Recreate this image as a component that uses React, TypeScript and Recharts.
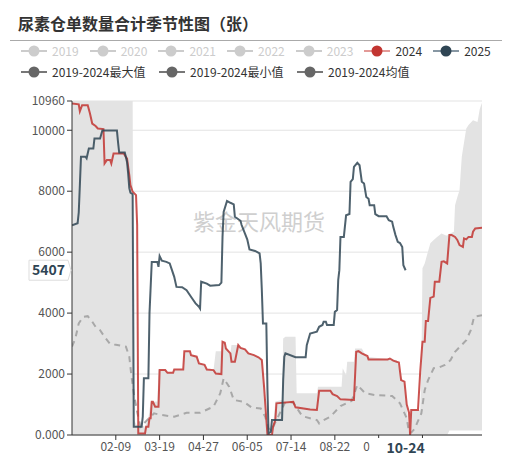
import React from 'react';
import { ComposedChart, Line, Area, XAxis, YAxis, CartesianGrid, ReferenceDot } from 'recharts';

const FONT = '"Noto Sans CJK SC", "Noto Sans", sans-serif';

const title = '尿素仓单数量合计季节性图（张）';
const watermark = '紫金天风期货';

// x axis = day of year (0 = 01-01, leap year calendar)
const xTickDays = [39, 78, 117, 156, 195, 234, 273, 312];
const xTickLabels = ['02-09', '03-19', '04-27', '06-05', '07-14', '08-22', '09-30', '11-08'];
const yTicks = [0, 2000, 4000, 6000, 8000, 10000, 10960];

const pointerDay = 297;
const pointerDayLabel = '10-24';
const pointerValue = 5407;

const legendYears = ['2019', '2020', '2021', '2022', '2023', '2024', '2025'];
const legendActive = [false, false, false, false, false, true, true];
const legendStats = ['2019-2024最大值', '2019-2024最小值', '2019-2024均值'];

// [day, min, max] for the 2019-2024 range band
const band: [number, number, number][] = [
  [0, 0, 10960], [54, 0, 10960], [55, 0, 500], [58, 0, 300], [63, 0, 300], [65, 0, 270], [68, 0, 550],
  [70, 0, 1090], [76, 0, 1100], [77, 0, 2130], [84, 0, 2130], [85, 0, 2040], [90, 0, 2040], [91, 0, 2150],
  [99, 0, 2150], [100, 0, 2750], [105, 0, 2750], [106, 0, 2620], [111, 0, 2570], [113, 0, 2350],
  [118, 0, 2300], [120, 0, 2150], [126, 0, 2130], [128, 0, 2750], [133, 0, 2750], [134, 0, 3060],
  [136, 0, 3030], [137, 0, 2840], [141, 0, 2680], [142, 0, 2950], [148, 0, 2950], [150, 0, 2860],
  [154, 0, 2810], [157, 0, 2680], [162, 0, 2620], [166, 0, 2550], [169, 0, 2460], [171, 0, 1580],
  [174, 0, 0], [178, 0, 0], [179, 0, 300], [181, 0, 1100], [187, 0, 1150], [188, 0, 3170], [190, 0, 3220],
  [199, 0, 3220], [200, 0, 1370], [218, 0, 1370], [219, 0, 1580], [240, 0, 1580], [241, 0, 2190],
  [244, 0, 1960], [245, 0, 2400], [251, 0, 2400], [252, 0, 2840], [258, 0, 2840], [262, 0, 2570],
  [289, 0, 2460], [294, 0, 1800], [296, 0, 1750], [298, 0, 930], [300, 0, 100], [301, 0, 0], [302, 0, 820],
  [310, 0, 820], [311, 0, 2100], [312, 0, 5470], [314, 0, 5630], [316, 0, 5900], [319, 0, 6290],
  [322, 0, 6400], [325, 0, 6500], [329, 0, 6610], [333, 0, 6550], [334, 0, 6550], [336, 150, 6600],
  [340, 150, 6670], [341, 150, 7540], [343, 150, 7800], [345, 150, 8030], [347, 150, 9130], [349, 150, 9600],
  [351, 150, 10060], [353, 150, 10170], [357, 150, 10330], [361, 150, 10270], [363, 150, 10700], [365, 150, 10900],
];

const mean: [number, number][] = [
  [0, 2900], [3, 3170], [6, 3660], [10, 3880], [14, 3900], [18, 3720], [21, 3550], [25, 3440], [29, 3220],
  [34, 2980], [39, 2960], [48, 2900], [51, 2570], [53, 1910], [55, 1370], [58, 760], [61, 270], [67, 490],
  [73, 710], [79, 660], [91, 600], [102, 730], [114, 730], [126, 930], [132, 1370], [135, 1860], [140, 1580],
  [144, 1150], [153, 1090], [160, 900], [168, 870], [172, 600], [175, 200], [178, 180], [182, 490],
  [190, 1090], [197, 1060], [205, 620], [218, 490], [220, 380], [222, 450], [230, 600], [239, 950],
  [249, 1120], [254, 1640], [261, 1370], [270, 1310], [285, 1280], [292, 1040], [298, 550], [300, 80],
  [302, 80], [305, 200], [311, 710], [314, 1475], [317, 1800], [322, 2190], [327, 2220], [332, 2300],
  [337, 2460], [341, 2730], [351, 3110], [355, 3440], [358, 3880], [365, 3930],
];

const y2024: [number, number][] = [
  [0, 10880], [6, 10850], [7, 10620], [9, 10820], [14, 10820], [16, 10550], [18, 10220], [21, 10140],
  [23, 10060], [28, 10040], [29, 8910], [31, 9020], [34, 9020], [35, 8910], [37, 9240], [46, 9240],
  [49, 9070], [51, 8530], [52, 8200], [54, 7980], [57, 7870], [58, 6890], [59, 50], [65, 50], [66, 270],
  [68, 270], [69, 550], [70, 550], [71, 1090], [72, 1090], [74, 930], [77, 930], [78, 2130], [83, 2130],
  [85, 2040], [90, 2040], [91, 2150], [99, 2150], [100, 2750], [105, 2750], [106, 2620], [111, 2570],
  [113, 2350], [118, 2300], [120, 2150], [126, 2130], [128, 2020], [133, 2000], [134, 3060], [136, 3030],
  [137, 2840], [141, 2680], [142, 2400], [145, 2400], [148, 2950], [150, 2860], [154, 2810], [157, 2680],
  [162, 2620], [166, 2550], [169, 2460], [171, 1580], [174, 0], [178, 0], [179, 270], [181, 490],
  [182, 1040], [197, 1090], [199, 910], [212, 840], [218, 820], [220, 1450], [230, 1450], [232, 1340],
  [236, 1280], [239, 1170], [251, 1150], [253, 2730], [255, 2750], [258, 2680], [263, 2590], [264, 2480],
  [281, 2480], [283, 2510], [286, 2440], [291, 2380], [293, 1800], [296, 1750], [298, 1000], [300, 740],
  [301, 0], [302, 820], [308, 820], [310, 2080], [312, 3060], [314, 3060], [315, 3740], [317, 3740],
  [319, 4500], [322, 4540], [323, 5030], [327, 5030], [329, 5680], [331, 5700], [334, 5630], [336, 6560],
  [338, 6560], [341, 6500], [343, 6400], [345, 6230], [348, 6170], [349, 6450], [351, 6420], [353, 6500],
  [356, 6500], [357, 6670], [359, 6780], [365, 6800],
];

const y2025: [number, number][] = [
  [0, 6880], [5, 6950], [6, 7300], [7, 8200], [8, 9130], [12, 9130], [13, 9080], [15, 9400], [19, 9400],
  [20, 9730], [25, 9730], [27, 9990], [40, 9990], [41, 9600], [42, 9270], [47, 9270], [49, 8960], [50, 8580],
  [51, 8100], [52, 7950], [54, 7900], [55, 270], [62, 270], [63, 600], [64, 1860], [68, 1860], [69, 4000],
  [71, 5680], [76, 5680], [77, 5520], [78, 5870], [80, 5720], [84, 5680], [87, 5630], [89, 5410], [91, 5190],
  [93, 4860], [98, 4850], [102, 4750], [107, 4480], [110, 4320], [113, 4210], [114, 4150], [115, 5030],
  [120, 4970], [123, 4900], [131, 4920], [133, 5000], [134, 6500], [135, 7320], [138, 7680], [141, 7620],
  [144, 7570], [145, 7160], [150, 7030], [151, 6890], [154, 6610], [156, 6420], [158, 6090], [163, 6040],
  [167, 5960], [168, 5630], [169, 4750], [170, 3660], [173, 3660], [174, 1500], [175, 55], [177, 100],
  [178, 490], [187, 490], [188, 1800], [189, 2570], [190, 2680], [199, 2550], [208, 2550], [209, 2950],
  [212, 3330], [218, 3390], [220, 3550], [223, 3610], [224, 3720], [226, 3720], [227, 3610], [233, 3610],
  [234, 4040], [236, 4100], [237, 5080], [238, 5410], [239, 6500], [242, 6500], [244, 7210], [247, 7250],
  [248, 8310], [250, 8400], [251, 8800], [254, 8930], [256, 8850], [258, 8310], [260, 8250], [262, 7810],
  [264, 7750], [265, 7540], [269, 7540], [270, 7250], [273, 7180], [280, 7180], [282, 7050], [285, 7000],
  [286, 6830], [288, 6560], [290, 6340], [292, 6300], [294, 6170], [295, 5570], [297, 5407],
];

const bandData = band.map(([d, lo, hi]) => ({ d, range: [lo, hi] }));
const meanData = mean.map(([d, v]) => ({ d, v }));
const data2024 = y2024.map(([d, v]) => ({ d, v }));
const data2025 = y2025.map(([d, v]) => ({ d, v }));

const RED = '#c23531';
const NAVY = '#2f4554';

const xFmt = (v: number) => {
  const i = xTickDays.indexOf(v);
  return i >= 0 ? xTickLabels[i] : '';
};
const yFmt = (v: number) => (v === 0 ? '0.000' : String(v));

const XPointer = (props: any) => {
  const { cx, cy } = props;
  if (cx == null || cy == null) return null;
  return (
    <g>
      <rect x={cx - 36} y={cy + 3} width={72} height={22} fill="#fff" />
      <text x={cx} y={cy + 18} textAnchor="middle" fontFamily={FONT} fontSize={14} fontWeight="bold" fill={NAVY}>
        {pointerDayLabel}
      </text>
    </g>
  );
};

const YPointer = (props: any) => {
  const { cx, cy } = props;
  if (cx == null || cy == null) return null;
  const r = cx - 4;
  const l = cx - 43;
  return (
    <g>
      <path
        d={`M${l},${cy - 10} L${r},${cy - 10} L${cx - 1},${cy} L${r},${cy + 10} L${l},${cy + 10} Z`}
        fill="#fff"
        stroke="#ddd"
        strokeWidth={1}
      />
      <text x={l + 3} y={cy + 5} fontFamily={FONT} fontSize={14} fontWeight="bold" fill={NAVY}>
        {String(pointerValue)}
      </text>
    </g>
  );
};

const LegendIcon = ({ circle, line }: { circle: string; line: string }) => (
  <svg width={26} height={14} style={{ display: 'block' }}>
    <line x1={0} y1={7} x2={26} y2={7} stroke={line} strokeWidth={2} />
    <circle cx={13} cy={7} r={5.5} fill={circle} />
  </svg>
);

export default function App() {
  const yearColors = (i: number) => {
    if (!legendActive[i]) return { circle: '#ccc', line: '#ccc', text: '#ccc' };
    if (legendYears[i] === '2024') return { circle: RED, line: '#e39a97', text: '#333' };
    return { circle: NAVY, line: '#8797a3', text: '#333' };
  };
  return (
    <div style={{ position: 'absolute', left: 0, top: 0, width: 522, height: 460, background: '#fff', fontFamily: FONT }}>
      <div style={{ position: 'absolute', left: 18, top: 13, fontSize: 16, lineHeight: '20px', fontWeight: 'bold', color: '#333' }}>
        {title}
      </div>
      <div style={{ position: 'absolute', left: 10, top: 40, width: 492, height: 1, background: '#aaa' }} />
      <div style={{ position: 'absolute', left: 21, top: 43, display: 'flex', alignItems: 'center', height: 16 }}>
        {legendYears.map((y, i) => {
          const c = yearColors(i);
          return (
            <div key={y} style={{ display: 'flex', alignItems: 'center', width: 68.7 }}>
              <LegendIcon circle={c.circle} line={c.line} />
              <span style={{ marginLeft: 5, fontSize: 12, color: c.text, lineHeight: '16px' }}>{y}</span>
            </div>
          );
        })}
      </div>
      <div style={{ position: 'absolute', left: 21, top: 64, display: 'flex', alignItems: 'center', height: 16 }}>
        {legendStats.map((s) => (
          <div key={s} style={{ display: 'flex', alignItems: 'center', width: 138 }}>
            <LegendIcon circle="#666" line="#777" />
            <span style={{ marginLeft: 5, fontSize: 12, color: '#333', lineHeight: '16px', whiteSpace: 'nowrap' }}>{s}</span>
          </div>
        ))}
      </div>
      <div style={{ position: 'absolute', left: 193, top: 206, fontSize: 22, color: '#cfcfcf', lineHeight: '28px', whiteSpace: 'nowrap' }}>
        {watermark}
      </div>
      <div style={{ position: 'absolute', left: 0, top: 0 }}>
        <ComposedChart width={522} height={460} margin={{ top: 101, right: 40, bottom: 0, left: 10 }}>
          <CartesianGrid vertical={false} stroke="#e3e3e3" />
          <XAxis
            type="number"
            dataKey="d"
            domain={[0, 365]}
            ticks={xTickDays}
            interval={0}
            tickFormatter={xFmt}
            tickSize={5}
            height={25}
            allowDataOverflow
            axisLine={{ stroke: '#333' }}
            tickLine={{ stroke: '#333' }}
            tick={{ fill: '#555', fontSize: 12, fontFamily: FONT }}
          />
          <YAxis
            type="number"
            domain={[0, 10960]}
            ticks={yTicks}
            interval={0}
            tickFormatter={yFmt}
            tickSize={5}
            width={62}
            allowDataOverflow
            axisLine={{ stroke: '#333' }}
            tickLine={{ stroke: '#333' }}
            tick={{ fill: '#555', fontSize: 12, fontFamily: FONT }}
          />
          <Area
            data={bandData}
            dataKey="range"
            type="linear"
            stroke="none"
            fill="#e3e3e3"
            fillOpacity={1}
            dot={false}
            activeDot={false}
            isAnimationActive={false}
          />
          <Line
            data={meanData}
            dataKey="v"
            type="linear"
            stroke="#a8a8a8"
            strokeWidth={2}
            strokeDasharray="6 5"
            dot={false}
            activeDot={false}
            isAnimationActive={false}
          />
          <Line
            data={data2024}
            dataKey="v"
            type="linear"
            stroke={RED}
            strokeOpacity={0.85}
            strokeWidth={2}
            dot={false}
            activeDot={false}
            isAnimationActive={false}
          />
          <Line
            data={data2025}
            dataKey="v"
            type="linear"
            stroke={NAVY}
            strokeOpacity={0.85}
            strokeWidth={2}
            dot={false}
            activeDot={false}
            isAnimationActive={false}
          />
          {/* @ts-ignore zIndex supported in newer recharts 3 */}
          <ReferenceDot x={pointerDay} y={0} ifOverflow="visible" shape={XPointer} zIndex={3000} />
          {/* @ts-ignore */}
          <ReferenceDot x={0} y={pointerValue} ifOverflow="visible" shape={YPointer} zIndex={3000} />
        </ComposedChart>
      </div>
    </div>
  );
}
